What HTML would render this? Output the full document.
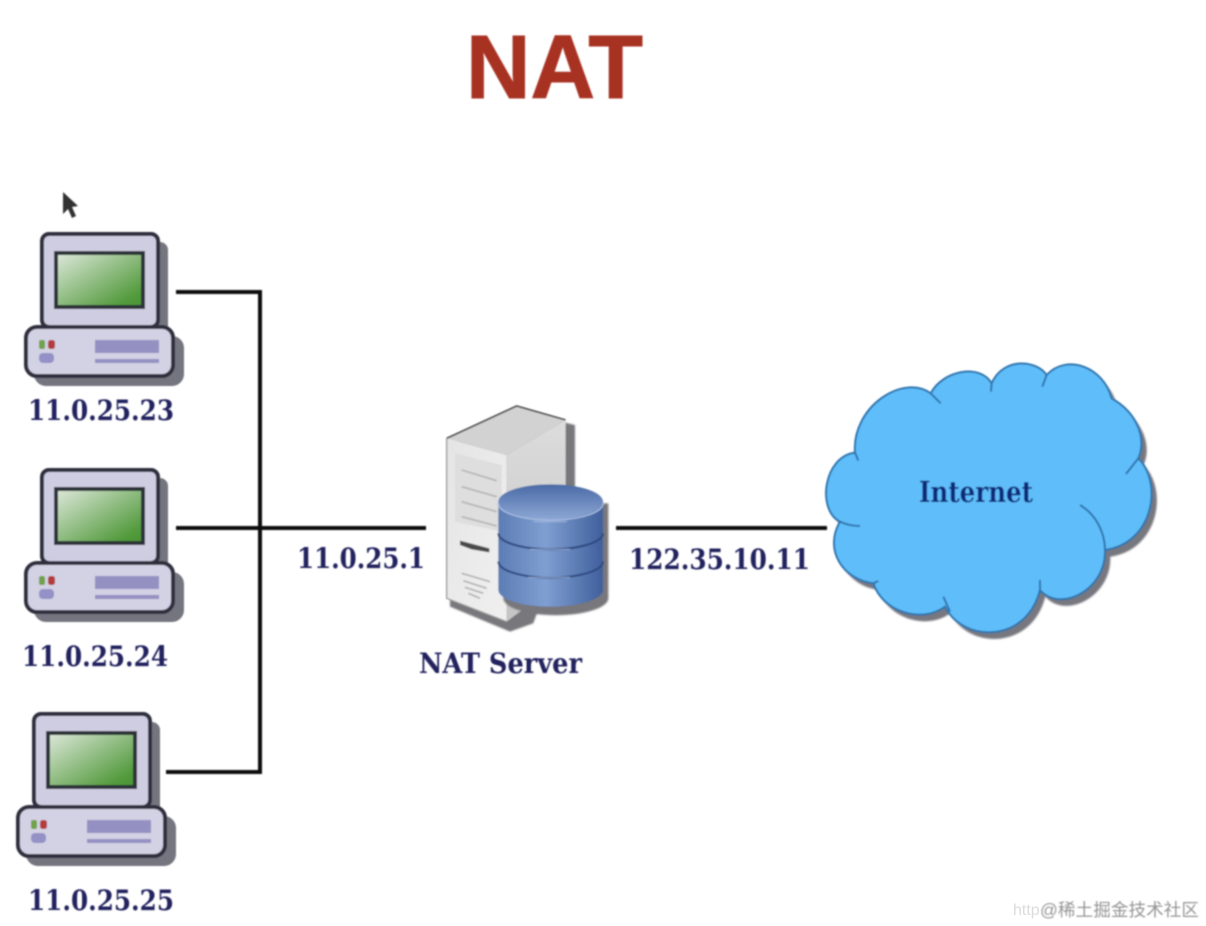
<!DOCTYPE html>
<html><head><meta charset="utf-8"><style>html,body{margin:0;padding:0;background:#fff}svg{display:block}</style></head><body>
<svg xmlns="http://www.w3.org/2000/svg" width="1206" height="926" viewBox="0 0 1206 926">
<defs>
<linearGradient id="scr" x1="0" y1="0" x2="1" y2="1"><stop offset="0" stop-color="#dfe9dc"/><stop offset=".85" stop-color="#529a3c"/><stop offset="1" stop-color="#4a9434"/></linearGradient>
<linearGradient id="cyl" x1="0" y1="0" x2="1" y2="0"><stop offset="0" stop-color="#5c7cb4"/><stop offset=".45" stop-color="#7f9fd2"/><stop offset="1" stop-color="#3f5f9c"/></linearGradient>
<linearGradient id="cyltop" x1="0" y1="0" x2="0" y2="1"><stop offset="0" stop-color="#4a6aa6"/><stop offset="1" stop-color="#8ba6d4"/></linearGradient>
<linearGradient id="front" x1="0" y1="0" x2="1" y2="1"><stop offset="0" stop-color="#e4e4e4"/><stop offset="1" stop-color="#f0f0f0"/></linearGradient>
<linearGradient id="side" x1="0" y1="0" x2="0" y2="1"><stop offset="0" stop-color="#dcdcdc"/><stop offset="1" stop-color="#c4c4c4"/></linearGradient>
<filter id="b" x="-5%" y="-5%" width="110%" height="110%"><feGaussianBlur stdDeviation="0.9"/></filter>
<filter id="b2" x="-10%" y="-10%" width="120%" height="120%"><feGaussianBlur stdDeviation="2.5"/></filter>
<g id="pc">
<rect x="50" y="242" width="118" height="94" rx="8" fill="#75757f"/>
<rect x="34" y="336" width="150" height="50" rx="12" fill="#75757f"/>
<rect x="42" y="234" width="116" height="93" rx="7" fill="#cfcde2" stroke="#2f2f3e" stroke-width="4"/>
<rect x="56" y="253" width="87" height="54" fill="url(#scr)" stroke="#2a3038" stroke-width="4"/>
<rect x="26" y="327" width="147" height="49" rx="11" fill="#d3d1e4" stroke="#2f2f3e" stroke-width="4"/>
<rect x="39" y="340" width="6" height="9" rx="2" fill="#6fa24a"/>
<rect x="48" y="340" width="7" height="9" rx="2.5" fill="#b23a3a"/>
<rect x="39" y="353" width="15" height="10" rx="4" fill="#9391c6"/>
<rect x="95" y="340" width="64" height="13" fill="#9490c2"/>
<rect x="95" y="359" width="64" height="4" fill="#9490c2"/>
</g>
</defs>

<g filter="url(#b)">
<text x="466" y="98" font-family="Liberation Sans, sans-serif" font-weight="700" font-size="90" fill="#a83224" stroke="#a83224" stroke-width="1" textLength="177" lengthAdjust="spacingAndGlyphs">NAT</text>

<path d="M63 192 L63 214 L68 209 L72 218 L76 216 L72 207 L78 206 Z" fill="#333"/>

<use href="#pc"/>
<use href="#pc" y="236"/>
<use href="#pc" x="-8" y="480"/>

<g fill="none" stroke="#0c0c0c" stroke-width="4">
<path d="M176 292H260V772H166"/>
<path d="M176 528H426"/>
<path d="M616 528H827"/>
</g>

<g font-family="DejaVu Serif, Liberation Serif, serif" font-weight="700" font-size="28" fill="#20215f">
<text x="28" y="420" textLength="146" lengthAdjust="spacingAndGlyphs">11.0.25.23</text>
<text x="22" y="666" textLength="146" lengthAdjust="spacingAndGlyphs">11.0.25.24</text>
<text x="28" y="910" textLength="146" lengthAdjust="spacingAndGlyphs">11.0.25.25</text>
<text x="297" y="568" textLength="128" lengthAdjust="spacingAndGlyphs">11.0.25.1</text>
<text x="629" y="569" textLength="181" lengthAdjust="spacingAndGlyphs">122.35.10.11</text>
<text x="419" y="673" textLength="163" lengthAdjust="spacingAndGlyphs">NAT Server</text>
</g>

<!-- server -->
<g transform="translate(400 390) scale(.3333)">
<path d="M150 165L360 65L525 105V350L400 700L330 725L150 650Z" fill="#77777c" filter="url(#b2)"/>
<path d="M320 195L497 90V400L380 650L320 695Z" fill="url(#side)"/>
<path d="M140 145L350 48L497 90L320 195Z" fill="#d2d2d2"/>
<path d="M140 145L320 195V695L140 625Z" fill="url(#front)"/>
<path d="M140 145L350 48L497 90" fill="none" stroke="#45454a" stroke-width="5"/>
<path d="M140 145V625L320 695" fill="none" stroke="#9a9a9a" stroke-width="4"/>
<path d="M165 190L305 225V425L165 395Z" fill="#dedede"/>
<g stroke="#b4b4b4" stroke-width="5" fill="none">
<path d="M185 240L290 272M185 290L290 320M185 335L290 365M185 380L290 408"/>
<path d="M185 550L270 575M190 572L260 595M195 592L250 610M205 610L240 625"/>
</g>
<path d="M180 452L268 475V487L215 478L180 465Z" fill="#4a4a4a"/>
<path d="M310 340V625A155 50 0 0 0 625 625V340Z" fill="#77777c" filter="url(#b2)"/>
<path d="M295 335V600A157 50 0 0 0 609 600V335Z" fill="url(#cyl)"/>
<ellipse cx="452" cy="335" rx="157" ry="52" fill="url(#cyltop)"/>
<path d="M295 340A157 50 0 0 0 609 340" fill="none" stroke="#a9bee2" stroke-width="4"/>
<path d="M295 430A157 48 0 0 0 609 430" fill="none" stroke="#2e4a80" stroke-width="6"/>
<path d="M295 515A157 48 0 0 0 609 515" fill="none" stroke="#2e4a80" stroke-width="6"/>
<path d="M400 395H500M390 478H510M385 562H510" stroke="#aabfe2" stroke-width="3" opacity=".8"/>
</g>

<!-- cloud -->
<g transform="translate(810 350) scale(.3333)">
<path transform="translate(16 20)" d="M135 308C125 170 280 70 362 130C400 60 510 40 545 100C580 20 680 30 710 75C770 10 880 50 905 145C985 190 1010 270 985 325C1060 400 1030 580 885 600C890 720 750 790 690 720C650 880 460 880 405 770C340 820 220 790 190 700C100 690 40 600 90 515C20 480 40 320 135 308Z" fill="#77777f" filter="url(#b2)"/>
<path d="M135 308C125 170 280 70 362 130C400 60 510 40 545 100C580 20 680 30 710 75C770 10 880 50 905 145C985 190 1010 270 985 325C1060 400 1030 580 885 600C890 720 750 790 690 720C650 880 460 880 405 770C340 820 220 790 190 700C100 690 40 600 90 515C20 480 40 320 135 308Z" fill="#5ebdf9" stroke="#2f74ad" stroke-width="6"/>
<g fill="none" stroke="#2f74ad" stroke-width="6">
<path d="M362 130L392 160M545 100L543 125M710 75L697 110M985 325L948 372M810 465C860 495 885 550 885 600M690 690V730M400 740L420 785M190 700L205 693M90 515C110 525 130 528 150 528M135 308L145 332"/>
</g>
</g>
<text x="919" y="502" font-family="DejaVu Serif, serif" font-weight="700" font-size="29" fill="#0f2a7a" textLength="114" lengthAdjust="spacingAndGlyphs">Internet</text>
</g>

<text x="1013" y="915" font-family="Liberation Sans, sans-serif" font-size="16" fill="#dcdcdc">http</text>
<text x="1040" y="916" font-family="Liberation Sans, 'Noto Sans CJK SC', sans-serif" font-size="17.6" fill="#8a8a8a" textLength="159" filter="url(#b)" opacity=".9">@稀土掘金技术社区</text>
</svg>
</body></html>
